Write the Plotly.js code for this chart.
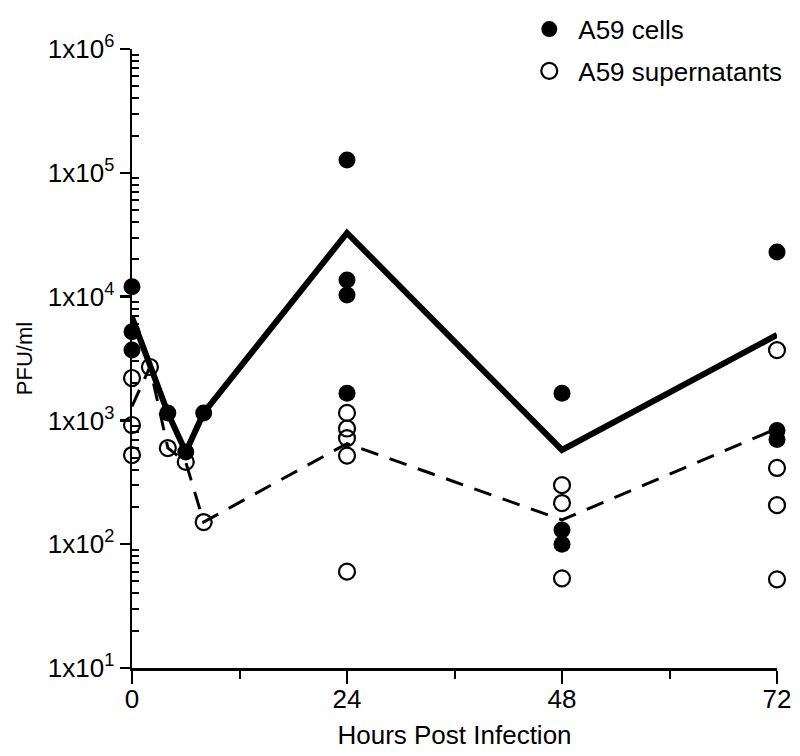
<!DOCTYPE html>
<html>
<head>
<meta charset="utf-8">
<script src="https://cdn.plot.ly/plotly-3.0.1.min.js"></script>
<style>html,body{margin:0;padding:0;background:#fff;}#chart{width:800px;height:756px;}</style>
</head>
<body>
<div id="chart"></div>
<script>
// ---- data ----
const cellsHours = [0, 0, 0, 4, 6, 8, 24, 24, 24, 24, 48, 48, 48, 72, 72, 72];
const cellsPFU   = [12000, 5200, 3700, 1150, 556, 1150, 127000, 13600, 10300, 1660, 1660, 130, 100, 22900, 830, 700];

const supHours = [0, 0, 0, 2, 4, 6, 8, 24, 24, 24, 24, 24, 48, 48, 48, 72, 72, 72, 72];
const supPFU   = [2200, 918, 525, 2700, 598, 462, 151, 1150, 860, 720, 520, 60, 300, 215, 53, 3700, 413, 207, 52];

const cellsMeanHours = [0, 4, 6, 8, 24, 48, 72];
const cellsMeanPFU   = [6800, 1150, 556, 1150, 32700, 577, 4900];

const supMeanHours = [0, 2, 4, 6, 8, 24, 48, 72];
const supMeanPFU   = [1300, 2700, 600, 460, 151, 650, 157, 860];

const xTickVals = [0, 24, 48, 72];
const xMinorVals = [12, 36, 60];
const yTickVals = [10, 100, 1000, 10000, 100000, 1000000];
const yTickText = ['1x10<sup>1</sup>', '1x10<sup>2</sup>', '1x10<sup>3</sup>', '1x10<sup>4</sup>', '1x10<sup>5</sup>', '1x10<sup>6</sup>'];
const seriesNames = ['A59 cells', 'A59 supernatants'];

// minor ticks 2..9 per decade
const yMinorVals = [];
for (let d = 10; d < 1000000; d *= 10) {
  for (let k = 2; k <= 9; k++) yMinorVals.push(d * k);
}

const FONT = 'Liberation Sans, Arial, Helvetica, sans-serif';

const traces = [
  {
    x: cellsHours, y: cellsPFU, type: 'scatter', mode: 'markers',
    name: seriesNames[0], legendgroup: 'a',
    marker: {symbol: 'circle', size: 17, color: '#000', line: {width: 0}},
    cliponaxis: false
  },
  {
    x: supHours, y: supPFU, type: 'scatter', mode: 'markers',
    name: seriesNames[1], legendgroup: 'b',
    marker: {symbol: 'circle-open', size: 16, color: '#000', line: {width: 2.2, color: '#000'}},
    cliponaxis: false
  },
  {
    x: cellsMeanHours, y: cellsMeanPFU, type: 'scatter', mode: 'lines',
    showlegend: false, hoverinfo: 'skip',
    line: {color: '#000', width: 6}
  },
  {
    x: supMeanHours, y: supMeanPFU, type: 'scatter', mode: 'lines',
    showlegend: false, hoverinfo: 'skip',
    line: {color: '#000', width: 3, dash: '18px,12px'}
  }
];

const layout = {
  width: 800, height: 756,
  margin: {l: 132, r: 23, t: 49, b: 88, autoexpand: false},
  paper_bgcolor: '#fff', plot_bgcolor: '#fff',
  font: {family: FONT, color: '#000', size: 20},
  showlegend: true,
  legend: {
    x: 0.602, y: 1.07, xanchor: 'left', yanchor: 'top',
    bgcolor: 'rgba(0,0,0,0)', font: {family: FONT, size: 26, color: '#000'},
    tracegroupgap: 5, traceorder: 'grouped', itemwidth: 48
  },
  xaxis: {
    range: [0, 72], showgrid: false, zeroline: false,
    showline: true, linecolor: '#000', linewidth: 2.5,
    tickmode: 'array', tickvals: xTickVals, ticktext: xTickVals.map(String),
    ticks: 'outside', ticklen: 13, tickwidth: 2.5, tickcolor: '#000',
    ticklabelstandoff: -7,
    tickfont: {family: FONT, size: 26, color: '#000'},
    minor: {tickmode: 'array', tickvals: xMinorVals, ticks: 'outside', ticklen: 8, tickwidth: 2, tickcolor: '#000', showgrid: false},
    title: {text: 'Hours Post Infection', font: {family: FONT, size: 26, color: '#000'}, standoff: 13},
    automargin: false
  },
  yaxis: {
    type: 'log', range: [1, 6], showgrid: false, zeroline: false,
    showline: true, linecolor: '#000', linewidth: 2.5,
    tickmode: 'array', tickvals: yTickVals, ticktext: yTickText,
    ticks: 'outside', ticklen: 10, tickwidth: 2.5, tickcolor: '#000',
    tickfont: {family: FONT, size: 26, color: '#000'},
    minor: {tickmode: 'array', tickvals: yMinorVals, ticks: 'inside', ticklen: 7, tickwidth: 2, tickcolor: '#000', showgrid: false},
    title: {text: 'PFU/ml', font: {family: FONT, size: 22, color: '#000'}, standoff: 9},
    automargin: false
  }
};

Plotly.newPlot('chart', traces, layout, {displayModeBar: false, staticPlot: true});
</script>
</body>
</html>
